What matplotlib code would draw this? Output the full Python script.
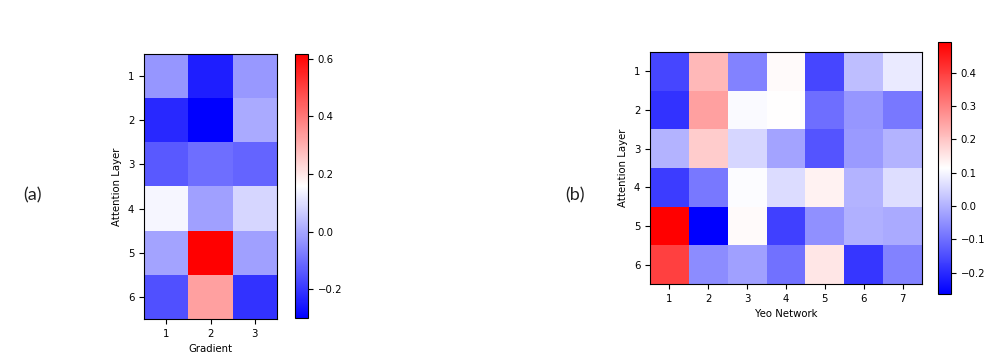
import numpy as np
import matplotlib
matplotlib.use("Agg")
import matplotlib.pyplot as plt

layers = [1, 2, 3, 4, 5, 6]
gradients = [1, 2, 3]
yeo_networks = [1, 2, 3, 4, 5, 6, 7]

# attention layer x gradient
grad_corr = np.array([
    [-0.030, -0.245, -0.025],
    [-0.228, -0.300, 0.006],
    [-0.138, -0.102, -0.120],
    [0.141, -0.012, 0.086],
    [-0.003, 0.617, -0.012],
    [-0.156, 0.330, -0.210],
])

# attention layer x yeo network
yeo_corr = np.array([
    [-0.160, 0.218, -0.071, 0.120, -0.160, 0.017, 0.084],
    [-0.190, 0.255, 0.107, 0.115, -0.101, -0.042, -0.086],
    [0.003, 0.188, 0.054, -0.019, -0.138, -0.034, 0.003],
    [-0.175, -0.086, 0.110, 0.062, 0.132, 0.003, 0.065],
    [0.492, -0.264, 0.120, -0.167, -0.049, -0.004, -0.012],
    [0.396, -0.056, -0.027, -0.093, 0.151, -0.183, -0.071],
])

W, H = 1001, 356
fig = plt.figure(figsize=(W / 100, H / 100), dpi=100)
fs = 7.3


def box(x0, y0, x1, y1):
    return [x0 / W, 1 - y1 / H, (x1 - x0) / W, (y1 - y0) / H]


def heatmap(ax_box, cax_box, data, xticks, xlabel, cticks):
    ax = fig.add_axes(box(*ax_box))
    im = ax.imshow(data, cmap="bwr", aspect="auto")
    ax.set_xticks(range(len(xticks)))
    ax.set_xticklabels(xticks, fontsize=fs)
    ax.set_yticks(range(len(layers)))
    ax.set_yticklabels(layers, fontsize=fs)
    ax.set_xlabel(xlabel, fontsize=fs)
    ax.set_ylabel("Attention Layer", fontsize=fs)
    cax = fig.add_axes(box(*cax_box))
    cb = fig.colorbar(im, cax=cax)
    cb.set_ticks(cticks)
    cb.ax.tick_params(labelsize=fs)
    return ax


heatmap((144, 54, 277, 319), (295, 54, 308, 318), grad_corr, gradients,
        "Gradient", [-0.2, 0.0, 0.2, 0.4, 0.6])
heatmap((650, 52, 922, 284), (938, 42, 951, 294), yeo_corr, yeo_networks,
        "Yeo Network", [-0.2, -0.1, 0.0, 0.1, 0.2, 0.3, 0.4])

fig.text(33 / W, 1 - 195 / H, "(a)", fontsize=13, color="#222222",
         family="Lato", ha="center", va="center")
fig.text(575 / W, 1 - 195 / H, "(b)", fontsize=13, color="#222222",
         family="Lato", ha="center", va="center")

fig.savefig("out.png", dpi=100)
